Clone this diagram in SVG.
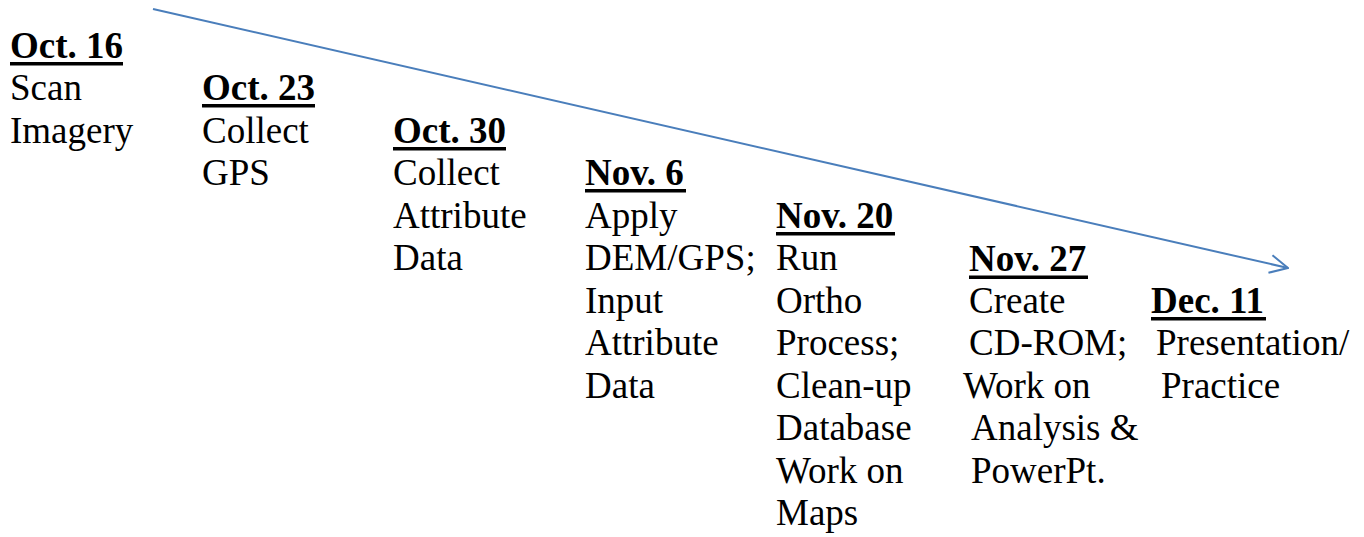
<svg xmlns="http://www.w3.org/2000/svg" width="1364" height="537" viewBox="0 0 1364 537">
  <style>
    text { font-size: 37px; fill: #000; }
    .date { font-weight: bold; }
    .uline { fill: #000; }
    .conn { stroke: #4a7ebb; stroke-width: 2; fill: none; }
  </style>
  <defs>
    <marker id="open-arrow" viewBox="0 0 20 20" refX="19" refY="10" markerWidth="20" markerHeight="20" markerUnits="userSpaceOnUse" orient="auto">
      <path d="M1,1 L19,10 L1,19" fill="none" stroke="#4a7ebb" stroke-width="2"/>
    </marker>
  </defs>
  <rect width="1364" height="537" fill="#fff"/>

  <g id="connectors">
    <line class="conn" x1="153" y1="9" x2="1288" y2="268" marker-end="url(#open-arrow)"/>
  </g>

  <!-- each date heading is underlined with a bar 4px below its baseline -->
  <g font-family="'Liberation Serif', 'Times New Roman', 'DejaVu Serif', serif">
    <g id="oct16">
      <text class="date" x="10" y="58">Oct. 16</text>
      <rect class="uline" x="10" y="62" width="113" height="3.5"/>
      <text x="10" y="100">Scan</text>
      <text x="10" y="143">Imagery</text>
    </g>

    <g id="oct23">
      <text class="date" x="202" y="100">Oct. 23</text>
      <rect class="uline" x="202" y="104" width="113" height="3.5"/>
      <text x="202" y="143">Collect</text>
      <text x="202" y="185">GPS</text>
    </g>

    <g id="oct30">
      <text class="date" x="393" y="143">Oct. 30</text>
      <rect class="uline" x="393" y="147" width="113" height="3.5"/>
      <text x="393" y="185">Collect</text>
      <text x="393" y="228">Attribute</text>
      <text x="393" y="270">Data</text>
    </g>

    <g id="nov6">
      <text class="date" x="585" y="185">Nov. 6</text>
      <rect class="uline" x="585" y="189" width="101" height="3.5"/>
      <text x="585" y="228">Apply</text>
      <text x="585" y="270">DEM/GPS;</text>
      <text x="585" y="313">Input</text>
      <text x="585" y="355">Attribute</text>
      <text x="585" y="398">Data</text>
    </g>

    <g id="nov20">
      <text class="date" x="776" y="228">Nov. 20</text>
      <rect class="uline" x="776" y="232" width="119" height="3.5"/>
      <text x="776" y="270">Run</text>
      <text x="776" y="313">Ortho</text>
      <text x="776" y="355">Process;</text>
      <text x="776" y="398">Clean-up</text>
      <text x="776" y="440">Database</text>
      <text x="776" y="483">Work on</text>
      <text x="776" y="525">Maps</text>
    </g>

    <g id="nov27">
      <text class="date" x="969" y="271">Nov. 27</text>
      <rect class="uline" x="969" y="275.5" width="119" height="3.5"/>
      <text x="969" y="313">Create</text>
      <text x="969" y="355">CD-ROM;</text>
      <text x="963" y="398">Work on</text>
      <text x="971" y="440">Analysis &amp;</text>
      <text x="971" y="483">PowerPt.</text>
    </g>

    <g id="dec11">
      <text class="date" x="1151" y="313">Dec. 11</text>
      <rect class="uline" x="1151" y="317" width="115" height="3.5"/>
      <text x="1156" y="355">Presentation/</text>
      <text x="1161" y="398">Practice</text>
    </g>
  </g>
</svg>
